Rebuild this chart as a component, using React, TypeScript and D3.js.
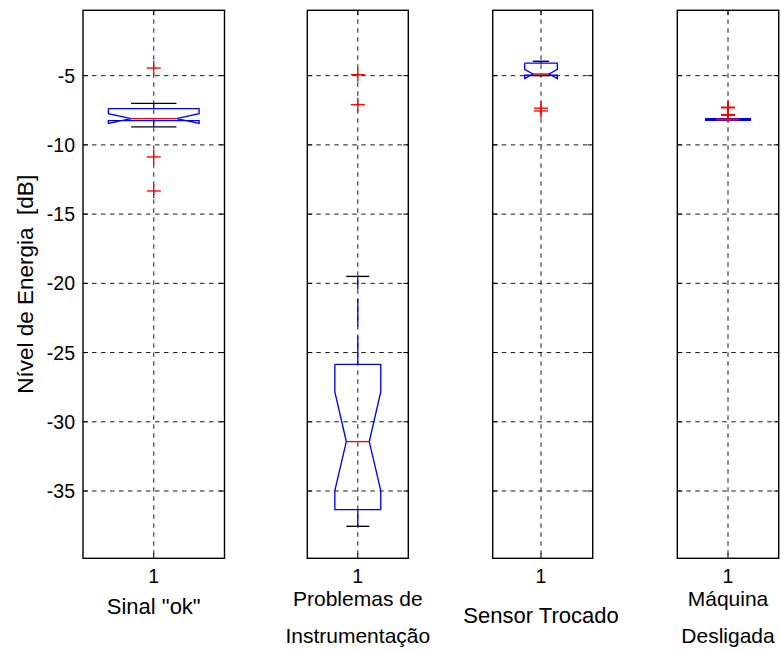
import React from "react";
import * as d3 from "d3";

// ---- data ----
const xLabelLines: string[][] = [
  ['Sinal "ok"'],
  ["Problemas de", "Instrumentação"],
  ["Sensor Trocado"],
  ["Máquina", "Desligada"],
];
const upperWhisker = [-7.0, -19.5, -3.96, -8.17];
const q3 = [-7.38, -25.85, -4.1, -8.17];
const notchHi = [-7.75, -27.84, -4.55, -8.17];
const median = [-8.1, -31.43, -4.88, -8.17];
const notchLo = [-8.45, -34.97, -5.21, -8.17];
const q1 = [-8.25, -36.34, -4.97, -8.17];
const lowerWhisker = [-8.7, -37.55, -5.0, -8.17];
const outliers: number[][] = [
  [-4.45, -10.87, -13.33],
  [-4.93, -7.1],
  [-7.35, -7.55],
  [-7.3, -7.84],
];
const yTicks = [-35, -30, -25, -20, -15, -10, -5];
const xTickLabel = "1";
const yLabel = "Nível de Energia  [dB]";
const yDomain: [number, number] = [-39.86, -0.28];

// ---- layout ----
const W = 781;
const H = 651;
const TOP = 10.3;
const BOTTOM = 558.3;
const panelPx: [number, number][] = [
  [83, 224.5],
  [307.3, 408.3],
  [492.7, 592.7],
  [677.3, 778.7],
];
const panelXDomain: [number, number][] = [
  [0.61, 1.39],
  [0.45, 1.55],
  [0.261, 1.791],
  [0.45, 1.55],
];
const FONT = "'Liberation Sans', Arial, Helvetica, sans-serif";
const BLUE = "#0000ff";
const RED = "#ff0000";
const GRID = "#1a1a1a";
const LW = 1.35;

export default function App() {
  const y = d3.scaleLinear().domain(yDomain).range([BOTTOM, TOP]);
  const hw = 0.25;
  const nw = 0.125;
  const capHw = 0.125;

  return (
    <svg
      width={W}
      height={H}
      style={{ position: "absolute", left: 0, top: 0, background: "#fff" }}
      fontFamily={FONT}
    >
      <rect x={0} y={0} width={W} height={H} fill="#fff" />
      {panelPx.map((px, i) => {
        const x = d3.scaleLinear().domain(panelXDomain[i]).range(px);
        const cx = x(1);
        const line = d3.line<[number, number]>()
          .x((d) => x(d[0]))
          .y((d) => y(d[1]));
        const boxPts: [number, number][] = [
          [1 - hw, q3[i]],
          [1 - hw, notchHi[i]],
          [1 - nw, median[i]],
          [1 - hw, notchLo[i]],
          [1 - hw, q1[i]],
          [1 + hw, q1[i]],
          [1 + hw, notchLo[i]],
          [1 + nw, median[i]],
          [1 + hw, notchHi[i]],
          [1 + hw, q3[i]],
          [1 - hw, q3[i]],
        ];
        const collapsed = q3[i] === q1[i];
        const lines = xLabelLines[i];
        const twoLine = lines.length === 2;
        const baselines = twoLine ? [606, 643] : i === 0 ? [614] : [623.3];
        return (
          <g key={i}>
            {/* grid */}
            {yTicks.map((t) => (
              <line
                key={t}
                x1={px[0]}
                x2={px[1]}
                y1={y(t)}
                y2={y(t)}
                stroke={GRID}
                strokeWidth={1}
                strokeDasharray="4.5 4.5"
              />
            ))}
            <line
              x1={cx}
              x2={cx}
              y1={TOP}
              y2={BOTTOM}
              stroke={GRID}
              strokeWidth={1}
              strokeDasharray="4.5 4.5"
            />
            {/* whiskers */}
            <path
              d={line([
                [1, q3[i]],
                [1, upperWhisker[i]],
              ]) || ""}
              stroke={BLUE}
              strokeWidth={LW}
              strokeDasharray="28 9.5"
              fill="none"
            />
            <path
              d={line([
                [1, q1[i]],
                [1, lowerWhisker[i]],
              ]) || ""}
              stroke={BLUE}
              strokeWidth={LW}
              strokeDasharray="28 9.5"
              fill="none"
            />
            {/* caps */}
            <path
              d={line([
                [1 - capHw, upperWhisker[i]],
                [1 + capHw, upperWhisker[i]],
              ]) || ""}
              stroke="#000"
              strokeWidth={LW}
            />
            <path
              d={line([
                [1 - capHw, lowerWhisker[i]],
                [1 + capHw, lowerWhisker[i]],
              ]) || ""}
              stroke="#000"
              strokeWidth={LW}
            />
            {/* notched box */}
            <path
              d={line(boxPts) || ""}
              stroke={BLUE}
              strokeWidth={collapsed ? 3 : LW}
              fill="none"
            />
            {/* median */}
            <path
              d={line([
                [1 - nw, median[i]],
                [1 + nw, median[i]],
              ]) || ""}
              stroke={RED}
              strokeWidth={collapsed ? 2 : LW}
            />
            {/* outliers */}
            {outliers[i].map((v, k) => (
              <g key={k} stroke={RED} strokeWidth={collapsed ? 2 : LW}>
                <line x1={cx - 7} x2={cx + 7} y1={y(v)} y2={y(v)} />
                <line x1={cx} x2={cx} y1={y(v) - 7} y2={y(v) + 7} />
              </g>
            ))}
            {/* ticks */}
            {yTicks.map((t) => (
              <g key={"t" + t} stroke="#000" strokeWidth={1}>
                <line x1={px[0]} x2={px[0] + 5} y1={y(t)} y2={y(t)} />
                <line x1={px[1] - 5} x2={px[1]} y1={y(t)} y2={y(t)} />
              </g>
            ))}
            <line x1={cx} x2={cx} y1={BOTTOM} y2={BOTTOM - 5} stroke="#000" />
            <line x1={cx} x2={cx} y1={TOP} y2={TOP + 5} stroke="#000" />
            {/* frame */}
            <rect
              x={px[0]}
              y={TOP}
              width={px[1] - px[0]}
              height={BOTTOM - TOP}
              fill="none"
              stroke="#000"
              strokeWidth={1.4}
            />
            {/* x tick label */}
            <text x={cx} y={582.5} textAnchor="middle" fontSize={19.5} fill="#000">
              {xTickLabel}
            </text>
            {/* x label */}
            {lines.map((s, k) => (
              <text
                key={k}
                x={cx}
                y={baselines[k]}
                textAnchor="middle"
                fontSize={twoLine ? 21 : 22}
                fill="#000"
              >
                {s}
              </text>
            ))}
            {/* y tick labels on first panel */}
            {i === 0 &&
              yTicks.map((t) => (
                <text
                  key={"l" + t}
                  x={75}
                  y={y(t) + 7}
                  textAnchor="end"
                  fontSize={19.5}
                  fill="#000"
                >
                  {t}
                </text>
              ))}
          </g>
        );
      })}
      <text
        transform={`translate(33, ${(TOP + BOTTOM) / 2}) rotate(-90)`}
        textAnchor="middle"
        fontSize={22.5}
        fill="#000"
        style={{ whiteSpace: "pre" }}
      >
        {yLabel}
      </text>
    </svg>
  );
}
